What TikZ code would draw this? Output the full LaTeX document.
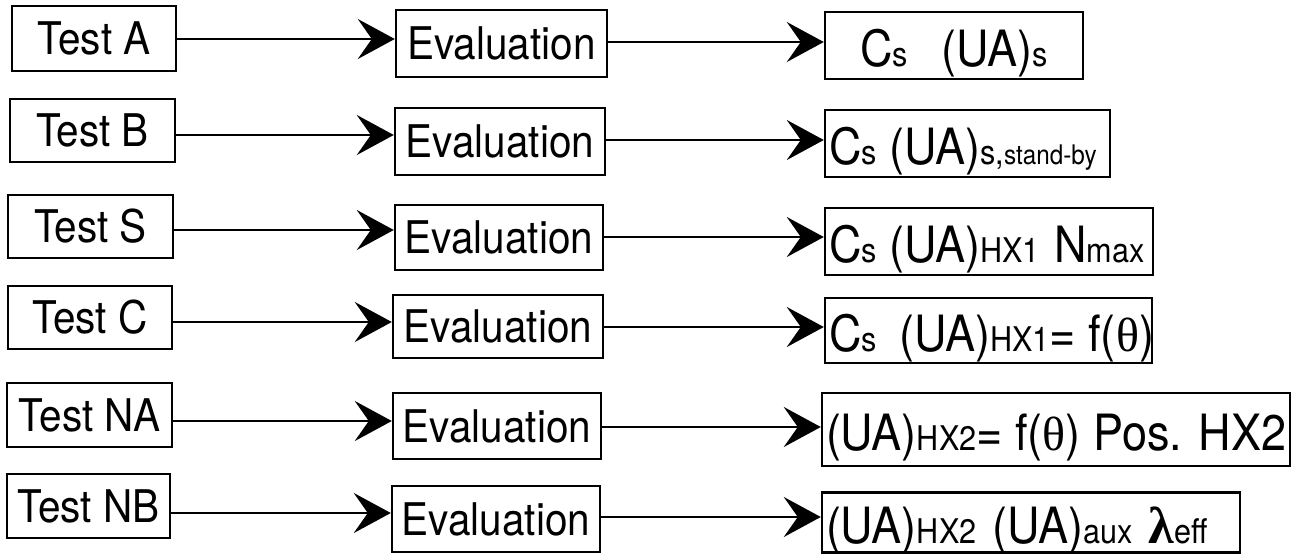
\documentclass[tikz,border=0pt]{standalone}
\usepackage{fontspec}
\setmainfont{TeX Gyre Heros}[FakeStretch=0.9]
\newfontfamily\resf{TeX Gyre Heros}[FakeStretch=0.9]
\newfontfamily\grk{Liberation Serif}
\usetikzlibrary{arrows.meta}
\newcommand{\sbs}[1]{{\normalfont\fontsize{34}{34}\selectfont #1}}
\newcommand{\sbt}[1]{{\normalfont\fontsize{27}{27}\selectfont #1}}
\newcommand{\lft}[2]{\makebox[#1][l]{#2}}
\begin{document}
\begin{tikzpicture}[x=1pt,y=-1pt,
  box/.style={draw, line width=2.4pt, inner sep=0pt, font=\fontsize{45}{54}\selectfont, anchor=center},
  res/.style={box, inner xsep=4pt, text height=42pt, text depth=0pt, font=\resf\fontsize{50}{56}\selectfont},
  arr/.style={line width=2.2pt, -{Stealth[length=37pt,width=40pt,inset=14pt]}},
]
\useasboundingbox (0,0) rectangle (1298,554);

% Test boxes
\node[box, minimum width=164pt, minimum height=65pt] (ta) at (94,38.5) {Test A};
\node[box, minimum width=165pt, minimum height=63pt] (tb) at (92.5,130.5) {Test B};
\node[box, minimum width=165pt, minimum height=63pt] (ts) at (90.5,226.5) {Test S};
\node[box, minimum width=164pt, minimum height=63pt] (tc) at (90,317.5) {Test C};
\node[box, minimum width=165pt, minimum height=64pt] (tna) at (89.5,415) {Test NA};
\node[box, minimum width=163pt, minimum height=64pt] (tnb) at (88.5,506) {Test NB};

% Evaluation boxes
\node[box, minimum width=211pt, minimum height=67pt] (ea) at (501.5,43.5) {Evaluation};
\node[box, minimum width=210pt, minimum height=67pt] (eb) at (500,141.5) {Evaluation};
\node[box, minimum width=208pt, minimum height=65pt] (es) at (499,237.5) {Evaluation};
\node[box, minimum width=210pt, minimum height=63pt] (ec) at (498,326.5) {Evaluation};
\node[box, minimum width=208pt, minimum height=66pt] (ena) at (497,426) {Evaluation};
\node[box, minimum width=208pt, minimum height=66pt] (enb) at (496,519) {Evaluation};

% Result boxes
\node[res, minimum width=258pt, minimum height=67pt] (ra) at (954,45.5) {C\sbs{s}\hspace{34pt}(UA)\sbs{s}};
\node[res, minimum height=67pt] (rb) at (967.5,143.5) {\lft{277pt}{C\sbs{s} (UA)\sbs{s,}\sbt{stand-by}}};
\node[res, minimum height=67pt] (rs) at (989,241.5) {\lft{320pt}{C\sbs{s} (UA)\sbs{HX1}\hspace{2pt} N\sbs{max}}};
\node[res, minimum height=65pt] (rc) at (988.5,330.5) {\lft{319pt}{C\sbs{s}\hspace{10pt} (UA)\sbs{HX1}= f({\grk\fontsize{48}{48}\selectfont θ})}};
\node[res, minimum height=73pt] (rna) at (1056,429.5) {\lft{460pt}{(UA)\sbs{HX2}= f({\grk\fontsize{48}{48}\selectfont θ}) Pos. HX2}};
\node[res, minimum height=60pt] (rnb) at (1031,522.5) {\lft{410pt}{(UA)\sbs{HX2}\hspace{16pt}(UA)\sbs{aux}\hspace{16pt}{\grk\bfseries\fontsize{52}{52}\selectfont λ}\sbs{eff}}};

% Arrows test -> evaluation
\draw[arr] ([yshift=-0.5pt]ta.east) -- ([yshift=-0.5pt]ta.east -| ea.west);
\draw[arr] ([yshift=-4.5pt]tb.east) -- ([yshift=-4.5pt]tb.east -| eb.west);
\draw[arr] ([yshift=-3.5pt]ts.east) -- ([yshift=-3.5pt]ts.east -| es.west);
\draw[arr] ([yshift=-4.5pt]tc.east) -- ([yshift=-4.5pt]tc.east -| ec.west);
\draw[arr] ([yshift=-6pt]tna.east) -- ([yshift=-6pt]tna.east -| ena.west);
\draw[arr] ([yshift=-7pt]tnb.east) -- ([yshift=-7pt]tnb.east -| enb.west);

% Arrows evaluation -> result
\draw[arr] ([yshift=1.5pt]ea.east) -- ([yshift=1.5pt]ea.east -| ra.west);
\draw[arr] ([yshift=1.5pt]eb.east) -- ([yshift=1.5pt]eb.east -| rb.west);
\draw[arr] ([yshift=0.5pt]es.east) -- ([yshift=0.5pt]es.east -| rs.west);
\draw[arr] ([yshift=-0.5pt]ec.east) -- ([yshift=-0.5pt]ec.east -| rc.west);
\draw[arr] ([yshift=-1pt]ena.east) -- ([yshift=-1pt]ena.east -| rna.west);
\draw[arr] ([yshift=2pt]enb.east) -- ([yshift=2pt]enb.east -| rnb.west);
\end{tikzpicture}
\end{document}
